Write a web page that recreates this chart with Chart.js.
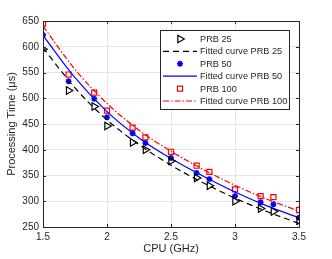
<!DOCTYPE html>
<html>
<head>
<meta charset="utf-8">
<script src="https://cdn.jsdelivr.net/npm/chart.js@4.4.1/dist/chart.umd.min.js"></script>
<style>
  html, body { margin: 0; padding: 0; background: #fff; }
  #wrap { width: 332px; height: 259px; }
</style>
</head>
<body>
<div id="wrap"><canvas id="myChart" width="332" height="259"></canvas></div>
<script>
// measured points
const cpu = [1.5, 1.7, 1.9, 2.0, 2.2, 2.3, 2.5, 2.7, 2.8, 3.0, 3.2, 3.3, 3.5]
const prb25 = [595, 515, 484, 446, 414, 400, 378, 345, 330, 300, 286, 280, 262]
const prb50 = [623, 533, 499, 463, 432, 413, 384, 355, 343, 310, 298, 294, 268]
const prb100 = [645, 546, 511, 476, 443, 424, 396, 369, 357, 323, 310, 308, 283]

// fitted curves
const cpuFit = [1.5, 1.75, 2.0, 2.25, 2.5, 2.75, 3.0, 3.25, 3.5]
const fit25 = [598, 520, 458, 410, 370, 336, 306, 280, 257]
const fit50 = [622, 540, 474, 423, 383, 349, 318, 291, 268]
const fit100 = [640, 556, 490, 438, 397, 362, 331, 304, 281]

const xTicks = [1.5, 2, 2.5, 3, 3.5]
const yTicks = [250, 300, 350, 400, 450, 500, 550, 600, 650]

function pts(xs, ys) { return xs.map((x, i) => ({ x: x, y: ys[i] })) }

const axisCol = '#262626'
const fontFam = '"Liberation Sans", Arial, sans-serif'

const boxPlugin = {
  id: 'boxPlugin',
  afterDatasetsDraw(chart) {
    const { ctx, chartArea: a, scales } = chart
    ctx.save()
    ctx.strokeStyle = axisCol
    ctx.lineWidth = 1
    ctx.beginPath()
    // inward ticks
    xTicks.forEach(v => {
      const px = Math.round(scales.x.getPixelForValue(v)) + 0.5
      ctx.moveTo(px, a.bottom); ctx.lineTo(px, a.bottom - 3)
      ctx.moveTo(px, a.top); ctx.lineTo(px, a.top + 3)
    })
    yTicks.forEach(v => {
      const py = Math.round(scales.y.getPixelForValue(v)) + 0.5
      ctx.moveTo(a.left, py); ctx.lineTo(a.left + 3, py)
      ctx.moveTo(a.right, py); ctx.lineTo(a.right - 3, py)
    })
    ctx.stroke()
    ctx.strokeRect(Math.round(a.left) + 0.5, Math.round(a.top) + 0.5,
      Math.round(a.right - a.left), Math.round(a.bottom - a.top))
    ctx.restore()
  }
}

const legendPlugin = {
  id: 'legendPlugin',
  afterDraw(chart) {
    const ctx = chart.ctx
    const bx = 160.5, by = 30.5, bw = 129, bh = 79
    ctx.save()
    ctx.fillStyle = '#fff'
    ctx.fillRect(bx, by, bw, bh)
    ctx.strokeStyle = '#262626'
    ctx.lineWidth = 1
    ctx.strokeRect(bx, by, bw, bh)
    ctx.font = '9.2px ' + fontFam
    ctx.textBaseline = 'middle'
    chart.data.datasets.forEach((ds, i) => {
      const y = 39 + i * 12.4
      const meta = chart.getDatasetMeta(i)
      if (ds.showLine === false) {
        const o = meta.data[0].options
        ctx.strokeStyle = o.borderColor
        ctx.fillStyle = o.backgroundColor
        ctx.lineWidth = o.borderWidth
        Chart.helpers.drawPoint(ctx, {
          pointStyle: o.pointStyle, radius: o.radius, rotation: o.rotation,
          borderWidth: o.borderWidth
        }, 180, y)
      } else {
        ctx.strokeStyle = ds.borderColor
        ctx.lineWidth = ds.borderWidth
        ctx.setLineDash(ds.borderDash || [])
        ctx.beginPath()
        ctx.moveTo(163, y); ctx.lineTo(197, y)
        ctx.stroke()
        ctx.setLineDash([])
      }
      ctx.fillStyle = axisCol
      ctx.fillText(ds.label, 200, y + 0.5)
    })
    ctx.restore()
  }
}

const config = {
  type: 'scatter',
  data: {
    datasets: [
      { label: 'PRB 25', data: pts(cpu, prb25), showLine: false,
        pointStyle: 'triangle', pointRadius: 4.3, pointRotation: 90,
        borderColor: '#000', backgroundColor: 'rgba(0,0,0,0)', borderWidth: 1.2 },
      { label: 'Fitted curve PRB 25', data: pts(cpuFit, fit25), showLine: true,
        borderColor: '#000', borderWidth: 1.2, borderDash: [6, 4], pointRadius: 0,
        tension: 0.4, cubicInterpolationMode: 'monotone' },
      { label: 'PRB 50', data: pts(cpu, prb50), showLine: false,
        pointStyle: 'star', pointRadius: 3,
        borderColor: '#0000ff', backgroundColor: '#0000ff', borderWidth: 1.6 },
      { label: 'Fitted curve PRB 50', data: pts(cpuFit, fit50), showLine: true,
        borderColor: '#0000ff', borderWidth: 1.2, pointRadius: 0,
        tension: 0.4, cubicInterpolationMode: 'monotone' },
      { label: 'PRB 100', data: pts(cpu, prb100), showLine: false,
        pointStyle: 'rect', pointRadius: 3.6,
        borderColor: '#ff0000', backgroundColor: 'rgba(0,0,0,0)', borderWidth: 1.2 },
      { label: 'Fitted curve PRB 100', data: pts(cpuFit, fit100), showLine: true,
        borderColor: '#ff0000', borderWidth: 1.2, borderDash: [6, 2, 1.5, 2], pointRadius: 0,
        tension: 0.4, cubicInterpolationMode: 'monotone' }
    ]
  },
  options: {
    responsive: false,
    animation: false,
    events: [],
    layout: { padding: { left: 0, right: 33, top: 21, bottom: 0 } },
    plugins: { legend: { display: false }, tooltip: { enabled: false } },
    scales: {
      x: {
        type: 'linear', min: 1.5, max: 3.5,
        afterBuildTicks: s => { s.ticks = xTicks.map(v => ({ value: v })) },
        afterFit: s => { s.height = 32 },
        grid: { color: '#e5e5e5', drawTicks: false },
        border: { color: axisCol },
        ticks: { color: axisCol, font: { size: 10, family: fontFam }, padding: 4,
          maxRotation: 0, callback: v => String(v) },
        title: { display: true, text: 'CPU (GHz)', color: axisCol,
          font: { size: 11, family: fontFam }, padding: { top: 0, bottom: 3 } }
      },
      y: {
        min: 250, max: 650,
        afterBuildTicks: s => { s.ticks = yTicks.map(v => ({ value: v })) },
        afterFit: s => { s.width = 43 },
        grid: { color: '#e5e5e5', drawTicks: false },
        border: { color: axisCol },
        ticks: { color: axisCol, font: { size: 10, family: fontFam }, padding: 4 },
        title: { display: true, text: 'Processing Time (\u03bcs)', color: axisCol,
          font: { size: 11, family: fontFam }, padding: { top: 5, bottom: 0 } }
      }
    }
  },
  plugins: [boxPlugin, legendPlugin]
}

new Chart(document.getElementById('myChart'), config)
</script>
</body>
</html>
